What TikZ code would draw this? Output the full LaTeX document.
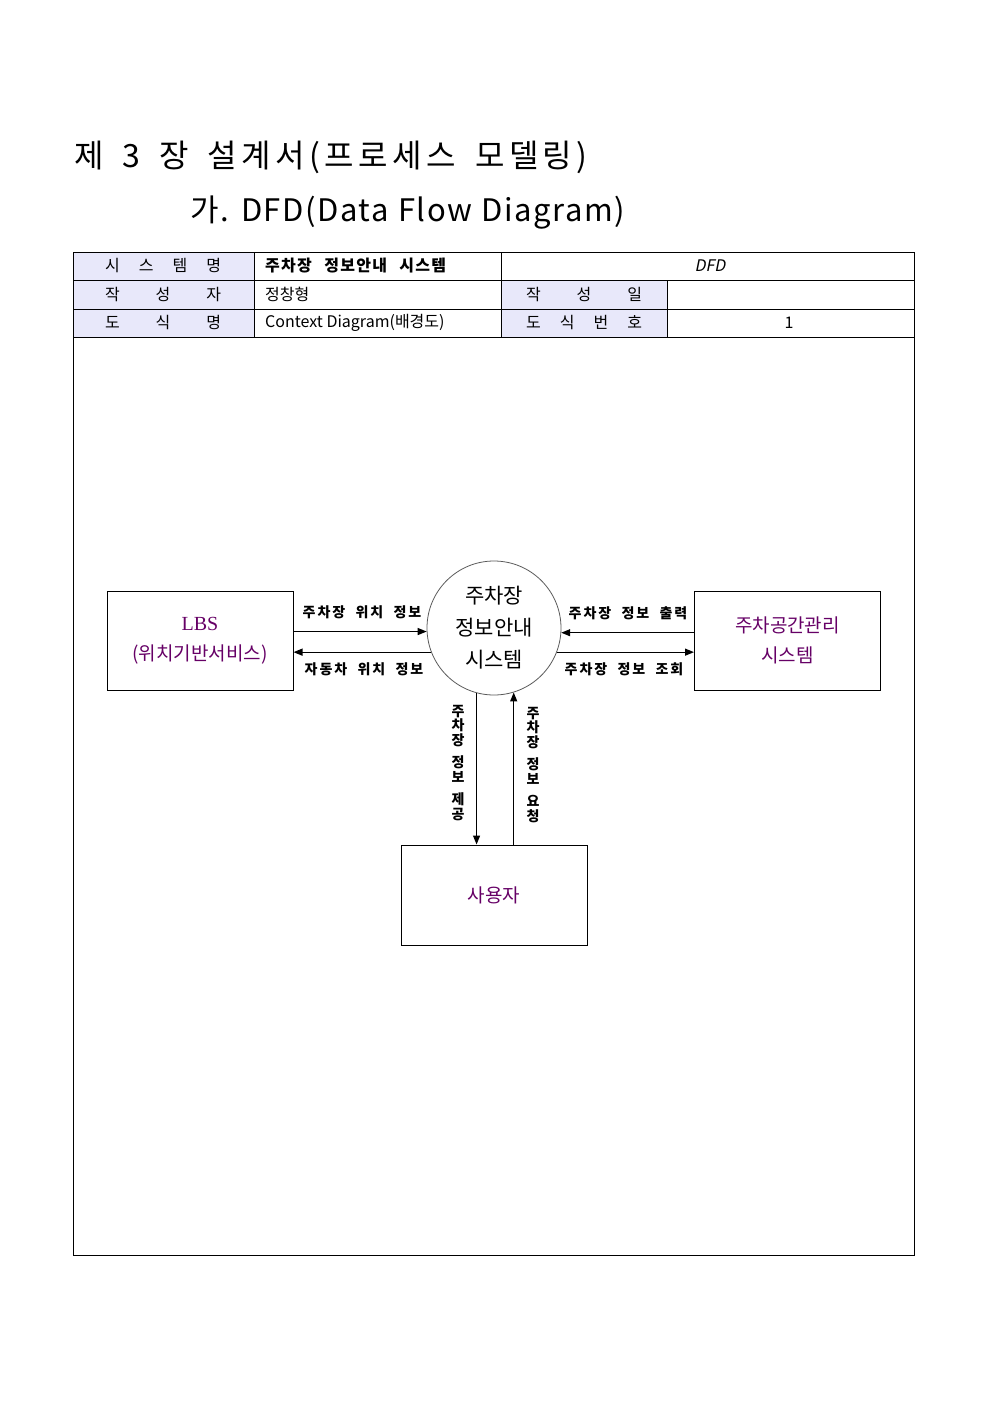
\documentclass[tikz,border=0pt]{standalone}
\usepackage{fontspec}
\setmainfont{Noto Sans CJK KR}
\newfontfamily\kr{Noto Sans CJK KR}
\newfontfamily\krt[LetterSpace=14]{Noto Sans CJK KR}
\newfontfamily\krs[WordSpace=1.1,LetterSpace=5]{Noto Sans CJK KR}
\newfontfamily\krl[WordSpace=2,LetterSpace=14]{Noto Sans CJK KR}
\newfontfamily\krc[WordSpace=2.5,LetterSpace=8]{Noto Sans CJK KR}
\newfontfamily\krit[FakeSlant=0.2]{Noto Sans CJK KR}
\newfontfamily\lserif{Liberation Serif}
\usetikzlibrary{arrows.meta,calc}
\definecolor{lav}{RGB}{232,232,250}
\definecolor{pur}{RGB}{102,0,102}
\definecolor{cgray}{RGB}{90,90,90}
\newcommand\tsp{\hspace{19pt}}
\tikzset{
  lbl/.style={font=\krl\bfseries\fontsize{14}{14.5}\selectfont, inner sep=0},
  vlbl/.style={font=\kr\bfseries\fontsize{14}{14.5}\selectfont, inner sep=0, align=center},
  ent/.style={draw, line width=1pt, minimum width=186pt, minimum height=99pt, text=pur, align=center, font=\kr\fontsize{19}{30}\selectfont},
  arr/.style={line width=1.2pt, -{Triangle[length=9pt,width=7pt]}},
  cell/.style={font=\kr\fontsize{16}{16}\selectfont, inner sep=0},
  tline/.style={line width=0.9pt},
}
\begin{document}
\begin{tikzpicture}[x=1pt,y=-1pt]
\useasboundingbox[fill=white] (0,0) rectangle (992,1403);
% headings
\node[anchor=west, font=\krt\fontsize{32}{32}\selectfont, inner sep=0] (title) at (74,157) {제\tsp 3\tsp 장\tsp 설계서(프로세스\tsp 모델링)};
\node[anchor=west, font=\krs\fontsize{31}{31}\selectfont, inner sep=0] (subtitle) at (190,213) {가. DFD(Data Flow Diagram)};
% table
\fill[lav] (73,252) rectangle (254,337);
\fill[lav] (501,280) rectangle (667,337);
\draw[tline] (73,252) rectangle (914,1255);
\draw[tline] (73,280) -- (914,280);
\draw[tline] (73,309) -- (914,309);
\draw[tline] (73,337) -- (914,337);
\draw[tline] (254,252) -- (254,337);
\draw[tline] (501,252) -- (501,337);
\draw[tline] (667,280) -- (667,337);
\node[cell] (t11) at (163,266) {\makebox[116pt]{시\hfill 스\hfill 템\hfill 명}};
\node[cell] (t21) at (163,294.5) {\makebox[116pt]{작\hfill 성\hfill 자}};
\node[cell] (t31) at (163,323) {\makebox[116pt]{도\hfill 식\hfill 명}};
\node[cell, anchor=west, font=\krc\bfseries\fontsize{16}{16}\selectfont] (t12) at (265,266) {주차장 정보안내 시스템};
\node[cell, anchor=west] (t22) at (265,294.5) {정창형};
\node[cell, anchor=west] (t32) at (265,323) {Context Diagram(배경도)};
\node[cell, font=\krit\fontsize{16}{16}\selectfont] (t13) at (710,266) {DFD};
\node[cell] (t23) at (584,294.5) {\makebox[116pt]{작\hfill 성\hfill 일}};
\node[cell] (t33) at (584,323) {\makebox[116pt]{도\hfill 식\hfill 번\hfill 호}};
\node[cell] (t34) at (789,323) {1};
% entities and process
\node[ent] (lbs) at (200,640.5) {{\lserif\fontsize{20}{30}\selectfont LBS}\\(위치기반서비스)};
\node[ent] (pms) at (787.5,640.5) {주차공간관리\\시스템};
\node[ent, minimum height=100pt] (usr) at (494,895) {사용자};
\node[circle, draw=cgray, line width=0.8pt, minimum size=134pt, inner sep=0, align=center, font=\kr\fontsize{21}{32}\selectfont] (proc) at (494,628) {주차장\\정보안내\\시스템};
% flows
\draw[arr] (lbs.east |- proc.183.4) -- (proc.183.4);
\draw[arr] (proc.201) -- (lbs.east |- proc.201);
\draw[arr] (pms.west |- proc.356.6) -- (proc.356.6);
\draw[arr] (proc.339) -- (pms.west |- proc.339);
\draw[arr] (proc.255.3) -- (proc.255.3 |- usr.north);
\draw[arr] (usr.north -| proc.287.4) -- (proc.287.4);
% labels
\node[lbl] (l1) at (362,612) {주차장 위치 정보};
\node[lbl] (l2) at (364,669) {자동차 위치 정보};
\node[lbl] (l3) at (628,613) {주차장 정보 출력};
\node[lbl] (l4) at (624,669) {주차장 정보 조회};
\node[vlbl] (l5) at (458,763) {주\\차\\장\\[8pt]정\\보\\[8pt]제\\공};
\node[vlbl] (l6) at (533,765) {주\\차\\장\\[8pt]정\\보\\[8pt]요\\청};
\end{tikzpicture}
\end{document}
